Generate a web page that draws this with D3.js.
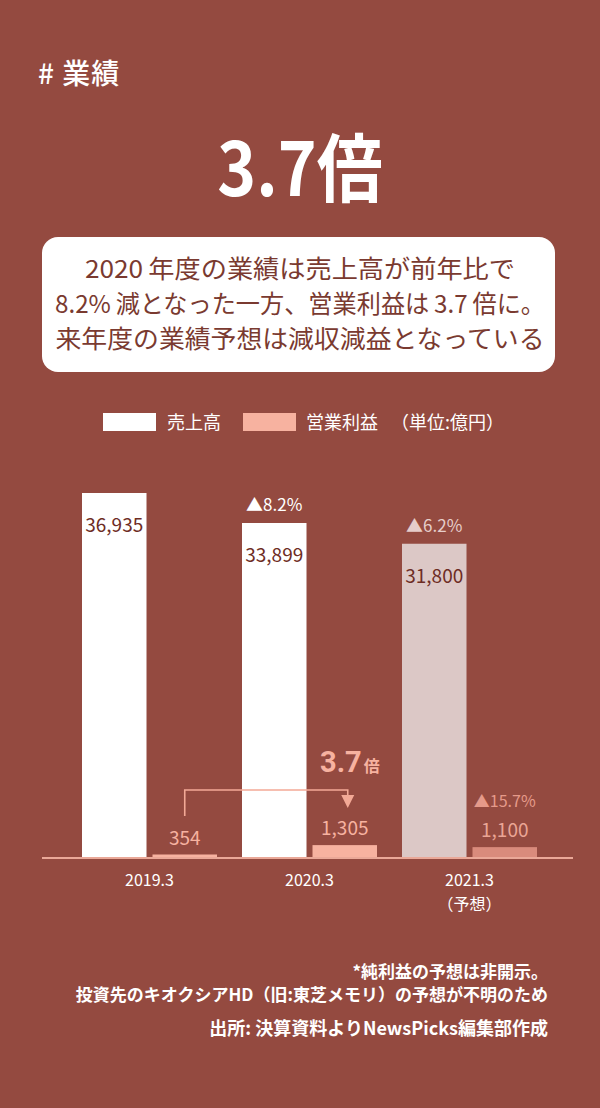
<!DOCTYPE html>
<html><head><meta charset="utf-8">
<script src="https://cdn.jsdelivr.net/npm/d3@7"></script>
<style>
html,body{margin:0;padding:0;background:#944a40;}
svg{display:block;}
text{font-family:"Noto Sans CJK JP","Noto Sans",sans-serif;}
</style></head>
<body><svg id="c" width="600" height="1108"></svg>
<script>
const categories = ["2019.3", "2020.3", "2021.3"];
const categorySub = ["", "", "（予想）"];
const sales = [36935, 33899, 31800];
const profit = [354, 1305, 1100];
const salesLabels = ["36,935", "33,899", "31,800"];
const profitLabels = ["354", "1,305", "1,100"];
const salesChange = ["", "▲8.2%", "▲6.2%"];
const profitChange = ["", "", "▲15.7%"];
const seriesNames = ["売上高", "営業利益"];
const summaryLines = ["2020\u2009年度の業績は売上高が前年比で", "8.2%\u2009減となった一方、営業利益は\u20093.7\u2009倍に。", "来年度の業績予想は減収減益となっている"];
const footnotes = ["*純利益の予想は非開示。", "投資先のキオクシアHD（旧:東芝メモリ）の予想が不明のため"];
const source = "出所: 決算資料よりNewsPicks編集部作成";

const svg = d3.select("#c");
const BG = "#944a40";
svg.append("rect").attr("width",600).attr("height",1108).attr("fill",BG);

// Header
svg.append("text").attr("x",38).attr("y",84).attr("fill","#fff")
  .attr("font-size",28).attr("font-weight",500).attr("letter-spacing",1).text("# 業績");
svg.append("text").attr("x",300).attr("y",196).attr("fill","#fff")
  .attr("text-anchor","middle").attr("font-size",66).attr("font-weight",700)
  .attr("font-family","'Noto Sans CJK JP',Roboto,sans-serif")
  .attr("transform","translate(300,196) scale(1,1.12) translate(-300,-196)")
  .text("3.7倍");

// Summary box
svg.append("rect").attr("x",42).attr("y",237).attr("width",513).attr("height",135)
  .attr("rx",16).attr("fill","#fff");
const lineWidths = [430, 490, 489];
summaryLines.forEach((l,i)=>{
  svg.append("text").attr("x",300).attr("y",278+i*35).attr("text-anchor","middle")
    .attr("fill","#7a3a30").attr("font-size",24.5).attr("font-weight",400)
    .attr("textLength",lineWidths[i]).attr("lengthAdjust","spacingAndGlyphs").text(l);
});

// Legend
const colSales = "#ffffff", colProfit = "#f7b2a0";
svg.append("rect").attr("x",103).attr("y",413).attr("width",53).attr("height",18).attr("fill",colSales);
svg.append("text").attr("x",167).attr("y",429).attr("fill","#fff").attr("font-size",18).text(seriesNames[0]);
svg.append("rect").attr("x",243).attr("y",413).attr("width",53).attr("height",18).attr("fill",colProfit);
svg.append("text").attr("x",306).attr("y",429).attr("fill","#fff").attr("font-size",18).text(seriesNames[1]);
svg.append("text").attr("x",391).attr("y",429).attr("fill","#fff").attr("font-size",18).text("（単位:億円）");

// Scales
const baseY = 858;
const y = d3.scaleLinear().domain([0, 36935]).range([baseY, 493]);
const x0 = d3.scaleBand().domain(categories).range([69.5, 549.5]);
const x1 = d3.scaleBand().domain(["s","p"]).range([12.5, 147.5]).paddingInner(6/70.5);

const salesFill = ["#ffffff","#ffffff","#dcc8c6"];
const profitFill = ["#f7b2a0","#f7b2a0","#d98b7c"];
const g = svg.append("g");
const numFont = "Roboto,'Noto Sans',sans-serif";

categories.forEach((c,i)=>{
  const xs = x0(c)+x1("s"), xp = x0(c)+x1("p"), bw = x1.bandwidth();
  g.append("rect").attr("x",xs).attr("y",y(sales[i])).attr("width",bw)
    .attr("height",baseY - y(sales[i])).attr("fill",salesFill[i]);
  g.append("rect").attr("x",xp).attr("y",y(profit[i])).attr("width",bw)
    .attr("height",baseY - y(profit[i])).attr("fill",profitFill[i]);
  g.append("text").attr("x",xs+bw/2).attr("y",y(sales[i])+39).attr("text-anchor","middle")
    .attr("fill","#6e2c24").attr("font-size",19).attr("font-family",numFont).text(salesLabels[i]);
  if (salesChange[i]) {
    g.append("text").attr("x",xs+bw/2).attr("y",y(sales[i])-12).attr("text-anchor","middle")
      .attr("fill", i===1 ? "#ffffff" : "#e6cdca").attr("font-size",17)
      .attr("font-family",numFont).text(salesChange[i]);
  }
  g.append("text").attr("x",xp+bw/2).attr("y",y(profit[i])-10).attr("text-anchor","middle")
    .attr("fill", i===2 ? "#eaa595" : "#f7b2a0").attr("font-size",19)
    .attr("font-family",numFont).text(profitLabels[i]);
  if (profitChange[i]) {
    g.append("text").attr("x",xp+bw/2).attr("y",y(profit[i])-40).attr("text-anchor","middle")
      .attr("fill","#e59a8a").attr("font-size",16)
      .attr("font-family",numFont).text(profitChange[i]);
  }
  g.append("text").attr("x",x0(c)+x0.bandwidth()/2).attr("y",886).attr("text-anchor","middle")
    .attr("fill","#fff").attr("font-size",16).attr("font-family",numFont).text(c);
  if (categorySub[i]) {
    g.append("text").attr("x",x0(c)+x0.bandwidth()/2).attr("y",910).attr("text-anchor","middle")
      .attr("fill","#fff").attr("font-size",16).text(categorySub[i]);
  }
});

// Baseline
svg.append("line").attr("x1",42).attr("x2",573).attr("y1",baseY).attr("y2",baseY)
  .attr("stroke","#eaa898").attr("stroke-width",2);

// Arrow from 2019 profit to 2020 profit
const ax1 = x0(categories[0])+x1("p")+x1.bandwidth()/2;
const ax2 = x0(categories[1])+x1("p")+x1.bandwidth()/2 + 3;
const arrowCol = "#f3a996";
svg.append("path").attr("d",`M${ax1},816 V790 H${ax2} V797`).attr("fill","none")
  .attr("stroke",arrowCol).attr("stroke-width",1.6);
svg.append("path").attr("d",`M${ax2-6.5},795 L${ax2+6.5},795 L${ax2},808 Z`).attr("fill",arrowCol);
const t = svg.append("text").attr("x",320).attr("y",772).attr("fill","#f7b2a0").attr("font-weight",700);
t.append("tspan").attr("font-size",29).attr("font-family",numFont).text("3.7");
t.append("tspan").attr("font-size",16).attr("dx",2).text("倍");

// Footnotes
footnotes.forEach((f,i)=>{
  svg.append("text").attr("x",548).attr("y",978+i*23).attr("text-anchor","end")
    .attr("fill","#fff").attr("font-size",17).attr("font-weight",700).text(f);
});
svg.append("text").attr("x",548).attr("y",1035).attr("text-anchor","end")
  .attr("fill","#fff").attr("font-size",18).attr("font-weight",700).text(source);
</script></body></html>
